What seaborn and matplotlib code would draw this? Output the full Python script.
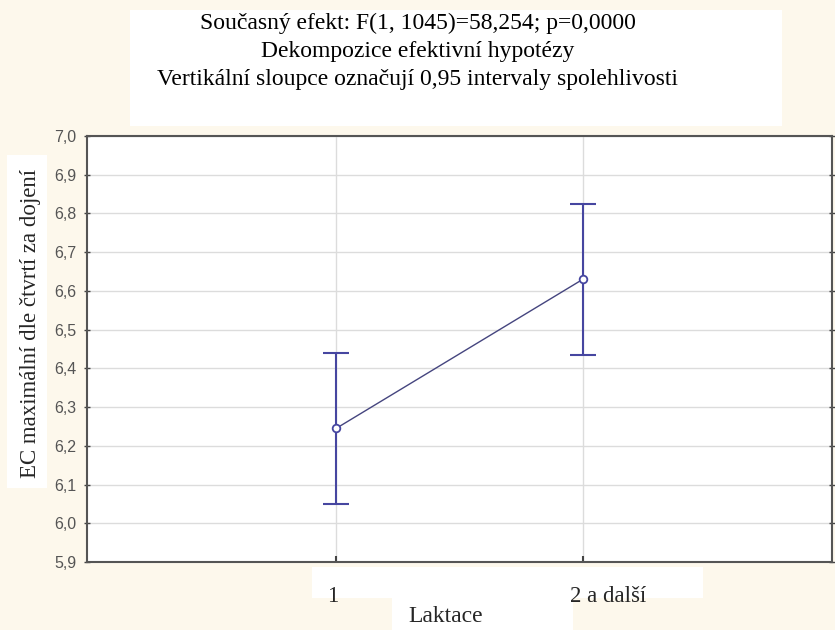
import matplotlib
matplotlib.use("Agg")
import matplotlib.pyplot as plt
import matplotlib.patches as mpatches
import matplotlib.ticker as mticker
import matplotlib.transforms as mtransforms
import seaborn as sns
import pandas as pd
import numpy as np

# ---- data ----
categories = ["1", "2 a další"]
means = [6.245, 6.630]
ci_low = [6.050, 6.435]
ci_high = [6.440, 6.825]
title_lines = ["Současný efekt: F(1, 1045)=58,254; p=0,0000",
               "Dekompozice efektivní hypotézy",
               "Vertikální sloupce označují 0,95 intervaly spolehlivosti"]
y_label = "EC maximální dle čtvrtí za dojení"
x_label = "Laktace"
y_ticks = [5.9, 6.0, 6.1, 6.2, 6.3, 6.4, 6.5, 6.6, 6.7, 6.8, 6.9, 7.0]

sns.set_theme(style="white")
plt.rcParams["font.family"] = ["Liberation Serif", "DejaVu Serif"]

BG = "#FDF8EC"
LINE = "#4646A0"

fig = plt.figure(figsize=(8.35, 6.3), dpi=100, facecolor=BG)
W, H = 835, 630

def box(x0, y0, x1, y1):
    fig.patches.append(mpatches.Rectangle((x0 / W, 1 - y1 / H), (x1 - x0) / W, (y1 - y0) / H,
                                          transform=fig.transFigure, facecolor="white",
                                          edgecolor="none", zorder=-5))

# white boxes behind texts
box(130, 10, 782, 126)
box(7, 155, 47, 488)
box(312, 567, 703, 598)
box(392, 598, 573, 630)

ax = fig.add_axes([87 / W, 1 - 562 / H, (832 - 87) / W, (562 - 136) / H])
ax.set_facecolor("white")

pos = np.arange(len(categories))
df = pd.DataFrame({"pos": pos, "mean": means})

sns.lineplot(data=df, x="pos", y="mean", ax=ax, color="#45457F", linewidth=1.0,
             marker="o", markersize=5.5, markerfacecolor="white",
             markeredgecolor=LINE, markeredgewidth=1.3, zorder=4)
yerr = [np.array(means) - np.array(ci_low), np.array(ci_high) - np.array(means)]
ax.errorbar(pos, means, yerr=yerr, fmt="none", ecolor=LINE, elinewidth=1.5,
            capsize=9.5, capthick=1.5, zorder=3)

ax.set_xlim(-1.01, 2.01)
ax.set_ylim(5.9, 7.0)
ax.set_yticks(y_ticks)
ax.yaxis.set_major_formatter(mticker.FuncFormatter(lambda v, p: f"{v:.1f}".replace(".", ",")))
ax.set_xticks(pos)
ax.set_xticklabels(categories, fontsize=16.5)

ax.tick_params(axis="y", which="both", left=True, right=True, direction="inout",
               length=5, width=1, color="#444444", pad=5)
ax.tick_params(axis="x", bottom=True, direction="in", length=4, width=1.5,
               color="#444444", pad=17)

xl = ax.get_xticklabels()
for lbl in xl:
    lbl.set_fontfamily(["Liberation Serif"])
xl[0].set_transform(xl[0].get_transform() + mtransforms.ScaledTranslation(-3 / 100, 0, fig.dpi_scale_trans))
xl[1].set_transform(xl[1].get_transform() + mtransforms.ScaledTranslation(25 / 100, 0, fig.dpi_scale_trans))

for t in ax.get_yticklabels():
    t.set_fontfamily(["Liberation Sans"])
    t.set_fontsize(11.5)
    t.set_color("#555555")

ax.grid(True, color="#DCDCDC", linewidth=1.0)
ax.set_axisbelow(True)
for s in ax.spines.values():
    s.set_color("#555555")
    s.set_linewidth(1.5)

ax.set_xlabel("")
ax.set_ylabel("")

# titles and labels
for i, line in enumerate(title_lines):
    fig.text(0.5, 1 - (23 + 28 * i) / H, line, ha="center", va="center", fontsize=17, color="black")
fig.text(31 / W, 1 - 323 / H, y_label, rotation=90, ha="center", va="center", fontsize=16.5)
fig.text(446 / W, 1 - 617 / H, x_label, ha="center", va="center", fontsize=17)

fig.savefig("out.png", dpi=100, facecolor=BG)
